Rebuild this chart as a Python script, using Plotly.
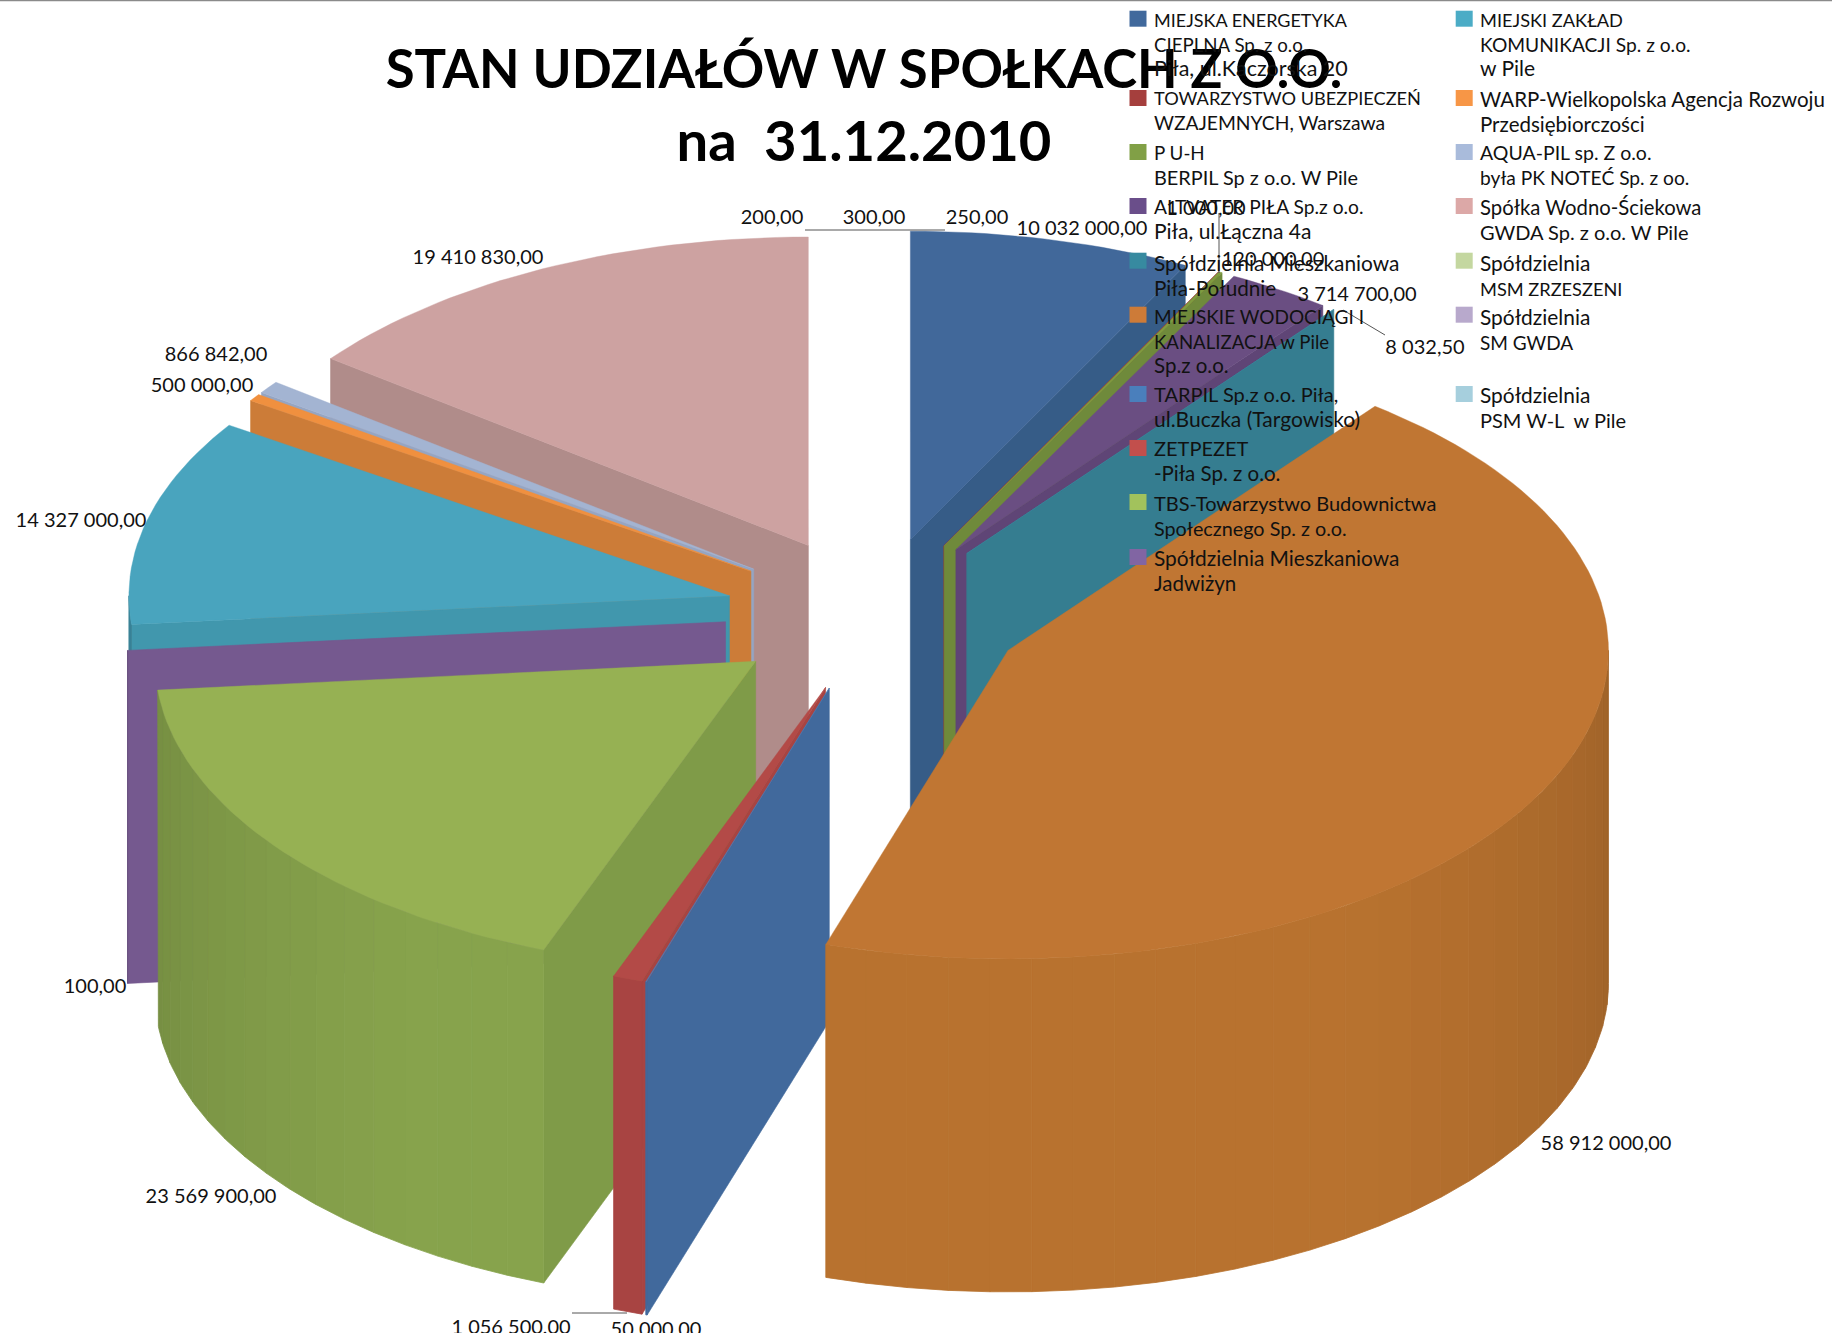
import math
import plotly.graph_objects as go

# ---- data ----
names = [
    "MIEJSKA ENERGETYKA<br>CIEPLNA Sp. z o.o.<br>Piła, ul.Kaczorska 20",
    "TOWARZYSTWO UBEZPIECZEŃ<br>WZAJEMNYCH, Warszawa",
    "P U-H<br>BERPIL Sp z o.o. W Pile",
    "ALTVATER PIŁA Sp.z o.o.<br>Piła, ul.Łączna 4a",
    "Spółdzielnia Mieszkaniowa<br>Piła-Południe",
    "MIEJSKIE WODOCIĄGI I<br>KANALIZACJA w Pile<br>Sp.z o.o.",
    "TARPIL Sp.z o.o. Piła,<br>ul.Buczka (Targowisko)",
    "ZETPEZET<br>-Piła Sp. z o.o.",
    "TBS-Towarzystwo Budownictwa<br>Społecznego Sp. z o.o.",
    "Spółdzielnia Mieszkaniowa<br>Jadwiżyn",
    "MIEJSKI ZAKŁAD<br>KOMUNIKACJI Sp. z o.o.<br>w Pile",
    "WARP-Wielkopolska Agencja Rozwoju<br>Przedsiębiorczości",
    "AQUA-PIL sp. Z o.o.<br>była PK NOTEĆ Sp. z oo.",
    "Spółka Wodno-Ściekowa<br>GWDA Sp. z o.o. W Pile",
    "Spółdzielnia<br>MSM ZRZESZENI",
    "Spółdzielnia<br>SM GWDA",
    "Spółdzielnia<br>PSM W-L  w Pile",
]
values = [10032000, 1000, 120000, 3714700, 8032.5, 58912000, 50000, 1056500,
          23569900, 100, 14327000, 500000, 866842, 19410830, 200, 300, 250]
value_labels = ["10 032 000,00", "1 000,00", "120 000,00", "3 714 700,00", "8 032,50",
                "58 912 000,00", "50 000,00", "1 056 500,00", "23 569 900,00", "100,00",
                "14 327 000,00", "500 000,00", "866 842,00", "19 410 830,00",
                "200,00", "300,00", "250,00"]

# ---- styles ----
legend_colors = ["#41699c", "#a53f3d", "#81a046", "#6a4e8a", "#378aa0", "#cd7b38",
                 "#4a7fbc", "#c24f4c", "#a2c25c", "#8165a3", "#4bacc6", "#f79646",
                 "#a9bbdb", "#dca8a7", "#c4d7a0", "#b8a9cc", "#a6cfdd"]
top_colors = ["#41689a", "#a53f3d", "#7f9c40", "#6a4e82", "#378aa0", "#c07633",
              "#4a7fbc", "#b34a47", "#96b153", "#7a5f96", "#49a4be", "#f0903f",
              "#a3b4d2", "#cda2a1", "#c4d7a0", "#b8a9cc", "#a6cfdd"]
face_colors = ["#365c87", "#8f3634", "#6f8a3b", "#5f4576", "#357d90", "#a8682d",
               "#41699c", "#a84442", "#7f9b48", "#75598f", "#4197ad", "#cc7c38",
               "#95a5c2", "#b08c8a", "#a8b98a", "#9f92b0", "#8fb3bf"]
wall_colors = ["#365c87", "#8f3634", "#6f8a3b", "#5f4576", "#357d90", "#b8722f",
               "#41699c", "#a84442", "#87a34c", "#75598f", "#4197ad", "#cc7c38",
               "#95a5c2", "#b08c8a", "#a8b98a", "#9f92b0", "#8fb3bf"]
# font size of each legend line, fitted to the width it has in the picture
legend_sizes = [[18, 18.7, 21.5], [18.2, 19.3], [18.8, 19.9], [19.2, 21], [20.9, 20.7],
                [19, 18.6, 20.5], [20, 21], [20, 20.5], [20, 19.8], [20.9, 20.5],
                [18.2, 19.2, 21], [20.5, 20.5], [19.5, 19.2], [20.3, 20], [20.9, 18.2],
                [20.9, 19], [20.9, 20]]

# projection of the tilted pie, in picture pixels
CX, CY, RX, RY, DEPTH, PULL = 875.0, 614.6, 600.5, 308.5, 333.0, 0.25
STRIP = 4.0
TOP_SLICE = 5  # the largest slice is painted last


def shade(col, f):
    r, g, b = (int(col[i:i + 2], 16) for i in (1, 3, 5))
    return "#%02x%02x%02x" % (round(r * f), round(g * f), round(b * f))


def rim(th):
    t = math.radians(th)
    return RX * math.sin(t), -RY * math.cos(t)


def poly(fig, pts, color, lw=0.6):
    xs = [p[0] for p in pts] + [pts[0][0]]
    ys = [p[1] for p in pts] + [pts[0][1]]
    fig.add_trace(go.Scatter(x=xs, y=ys, mode="lines", fill="toself", fillcolor=color,
                             line=dict(color=color, width=lw), hoverinfo="skip",
                             showlegend=False))


total = sum(values)
slices = []
acc = 0.0
for i, v in enumerate(values):
    a0 = acc / total * 360
    acc += v
    a1 = acc / total * 360
    slices.append((i, a0, a1))

fig = go.Figure()
order = sorted(slices, key=lambda s: (s[0] == TOP_SLICE, -math.cos(math.radians((s[1] + s[2]) / 2))))
for i, a0, a1 in order:
    mid = (a0 + a1) / 2
    mx, my = rim(mid)
    tx, ty = CX + PULL * mx, CY + PULL * my

    # cut faces
    for th, visible in ((a0, math.sin(math.radians(a0)) < -0.01),
                        (a1, math.sin(math.radians(a1)) > 0.01)):
        if visible:
            rx, ry = rim(th)
            poly(fig, [(tx, ty), (tx + rx, ty + ry), (tx + rx, ty + ry + DEPTH), (tx, ty + DEPTH)],
                 face_colors[i])

    # curved outer wall, in shaded strips
    w0, w1 = max(a0, 90.0), min(a1, 270.0)
    if w1 > w0:
        n = max(1, math.ceil((w1 - w0) / STRIP))
        for k in range(n):
            s0 = w0 + (w1 - w0) * k / n
            s1 = w0 + (w1 - w0) * (k + 1) / n
            off = abs((s0 + s1) / 2 - 180)
            f = 1.0 if off < 35 else 1.0 - 0.14 * (off - 35) / 55
            sub = 6
            up = [rim(s0 + (s1 - s0) * j / sub) for j in range(sub + 1)]
            pts = [(tx + p[0], ty + p[1]) for p in up] + \
                  [(tx + p[0], ty + p[1] + DEPTH) for p in reversed(up)]
            poly(fig, pts, shade(wall_colors[i], f), lw=0.8)

    # top surface
    if a1 - a0 > 0.001:
        n = max(2, math.ceil((a1 - a0) / 1.5))
        arc = [rim(a0 + (a1 - a0) * j / n) for j in range(n + 1)]
        poly(fig, [(tx, ty)] + [(tx + p[0], ty + p[1]) for p in arc], top_colors[i], lw=0.4)

# ---- value labels (clipped by the plot area, as in the picture) ----
label_x = [1082, 1206, 1273, 1357, 1425, 1606, 656, 511, 211, 95, 81, 202, 216, 478, 772, 874, 977]
label_y = [230, 210, 261, 296, 349, 1145, 1331, 1329, 1198, 988, 522, 387, 356, 259, 219, 219, 219]
fig.add_trace(go.Scatter(x=label_x, y=label_y, mode="text", text=value_labels,
                         textposition="middle center", cliponaxis=True, hoverinfo="skip",
                         textfont=dict(family="Lato", size=20, color="#111111"), showlegend=False))

# ---- leader lines ----
leaders = [((805, 230), (945, 230)), ((1219, 213), (1219, 273)),
           ((1343, 310), (1385, 335)), ((572, 1313), (627, 1313))]
for (x0, y0), (x1, y1) in leaders:
    fig.add_shape(type="line", x0=x0, y0=y0, x1=x1, y1=y1, line=dict(color="#555555", width=1))

# top hairline
fig.add_shape(type="line", x0=0, x1=1832, y0=0.5, y1=0.5, line=dict(color="#8a8a8a", width=1.5))


# ---- legend ----
def legend_text(name, sizes):
    return "<br>".join("<span style='font-size:%gpx'>%s</span>" % (s, line)
                       for line, s in zip(name.split("<br>"), sizes))


row_y = [10.7, 90, 144, 198, 252.7, 306.7, 386, 440, 494, 549]
row2_y = [10.7, 90, 144, 198, 252.7, 306.7, 386]
text_off = [0, 1.2, 1.2, 1.2, 1.5, 0, 2.3, 2.3, 1.2, 2.3]
text2_off = [0, 2, 1.2, 1.2, 1.2, 1.5, 2.3]
anns = []
for idx, name in enumerate(names):
    if idx < 10:
        sx, tx_, y, dy = 1129.5, 1153, row_y[idx], text_off[idx]
    else:
        sx, tx_, y, dy = 1455.7, 1478.5, row2_y[idx - 10], text2_off[idx - 10]
    fig.add_shape(type="rect", x0=sx, x1=sx + 17, y0=y, y1=y + 16, layer="above",
                  fillcolor=legend_colors[idx], line=dict(width=0))
    anns.append(dict(x=tx_, y=y - 2.5 - dy, text=legend_text(name, legend_sizes[idx]), showarrow=False,
                     xanchor="left", yanchor="top", align="left", xref="x", yref="y", borderpad=0,
                     font=dict(family="Lato", size=19, color="#111111")))

fig.update_layout(
    width=1832, height=1342,
    margin=dict(l=0, r=0, t=0, b=9),
    paper_bgcolor="white", plot_bgcolor="white",
    xaxis=dict(range=[0, 1832], visible=False, fixedrange=True),
    yaxis=dict(range=[1333, 0], visible=False, fixedrange=True),
    showlegend=False,
    annotations=anns,
    title=dict(text="<b><span style='font-size:52.7px'>STAN UDZIAŁÓW W SPOŁKACH Z O.O.</span><br>na  31.12.2010</b>",
               x=864 / 1832, xanchor="center", xref="paper", y=1 - 88 / 1342, yanchor="top",
               font=dict(family="Lato", size=56.2, color="#000000")),
)
fig.write_html("out.html", post_script="document.body.style.margin='0';",
               config={"displayModeBar": False})
